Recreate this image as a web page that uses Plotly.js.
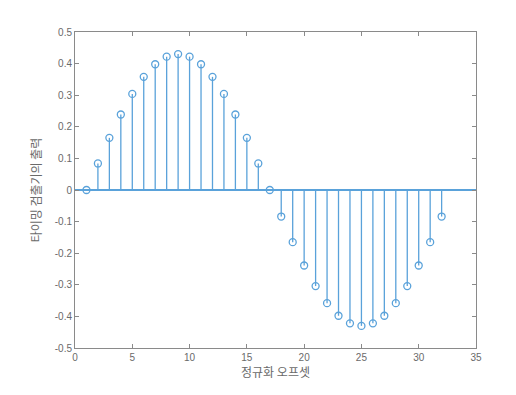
<!DOCTYPE html>
<html>
<head>
<meta charset="utf-8">
<script src="https://cdn.plot.ly/plotly-3.0.1.min.js"></script>
<style>
  html, body { margin: 0; padding: 0; background: #fff; }
  #chart { width: 516px; height: 395px; }
</style>
</head>
<body>
<div id="chart"></div>
<script>
// Normalized offset samples and timing detector output
const offsets = [1, 2, 3, 4, 5, 6, 7, 8, 9, 10, 11, 12, 13, 14, 15, 16,
                 17, 18, 19, 20, 21, 22, 23, 24, 25, 26, 27, 28, 29, 30, 31, 32];
const output = [0, 0.084, 0.165, 0.239, 0.304, 0.358, 0.398, 0.422,
                0.430, 0.422, 0.398, 0.358, 0.304, 0.239, 0.165, 0.084,
                0, -0.084, -0.165, -0.239, -0.304, -0.358, -0.398, -0.422,
                -0.430, -0.422, -0.398, -0.358, -0.304, -0.239, -0.165, -0.084];
const xTicks = [0, 5, 10, 15, 20, 25, 30, 35];
const yTicks = [-0.5, -0.4, -0.3, -0.2, -0.1, 0, 0.1, 0.2, 0.3, 0.4, 0.5];

const stemColor = '#5aa2da';
const axisColor = '#8a8a8a';
const textColor = '#6a6a6a';

// stems: vertical segments from the baseline to each sample
const stemX = [], stemY = [];
offsets.forEach((x, i) => {
  stemX.push(x, x, null);
  stemY.push(0, output[i], null);
});

const traces = [
  {
    x: stemX, y: stemY, type: 'scatter', mode: 'lines',
    line: { color: stemColor, width: 1.3 },
    hoverinfo: 'skip', showlegend: false
  },
  {
    x: offsets, y: output, type: 'scatter', mode: 'markers',
    marker: { symbol: 'circle-open', size: 7, color: stemColor, line: { width: 1.3, color: stemColor } },
    showlegend: false
  }
];

const axisCommon = {
  showline: true, linecolor: axisColor, linewidth: 1, mirror: 'ticks',
  ticks: 'inside', ticklen: 4, tickcolor: axisColor, tickwidth: 1,
  showgrid: false,
  tickfont: { family: 'Arial, Liberation Sans, sans-serif', size: 10, color: textColor }
};

const layout = {
  width: 516, height: 395,
  margin: { l: 75, r: 40, t: 32, b: 47 },
  paper_bgcolor: '#ffffff', plot_bgcolor: '#ffffff',
  xaxis: Object.assign({}, axisCommon, {
    range: [0, 35], tickvals: xTicks, ticktext: xTicks.map(String),
    zeroline: false,
    title: { text: '정규화 오프셋', standoff: 3,
             font: { family: 'Noto Sans CJK KR, sans-serif', size: 12, color: textColor } }
  }),
  yaxis: Object.assign({}, axisCommon, {
    range: [-0.5, 0.5], tickvals: yTicks, ticktext: yTicks.map(v => String(v)),
    zeroline: true, zerolinecolor: stemColor, zerolinewidth: 1.3,
    title: { text: '타이밍 검출기의 출력', standoff: 10,
             font: { family: 'Noto Sans CJK KR, sans-serif', size: 12, color: textColor } }
  })
};

Plotly.newPlot('chart', traces, layout, { displayModeBar: false, staticPlot: true });
</script>
</body>
</html>
